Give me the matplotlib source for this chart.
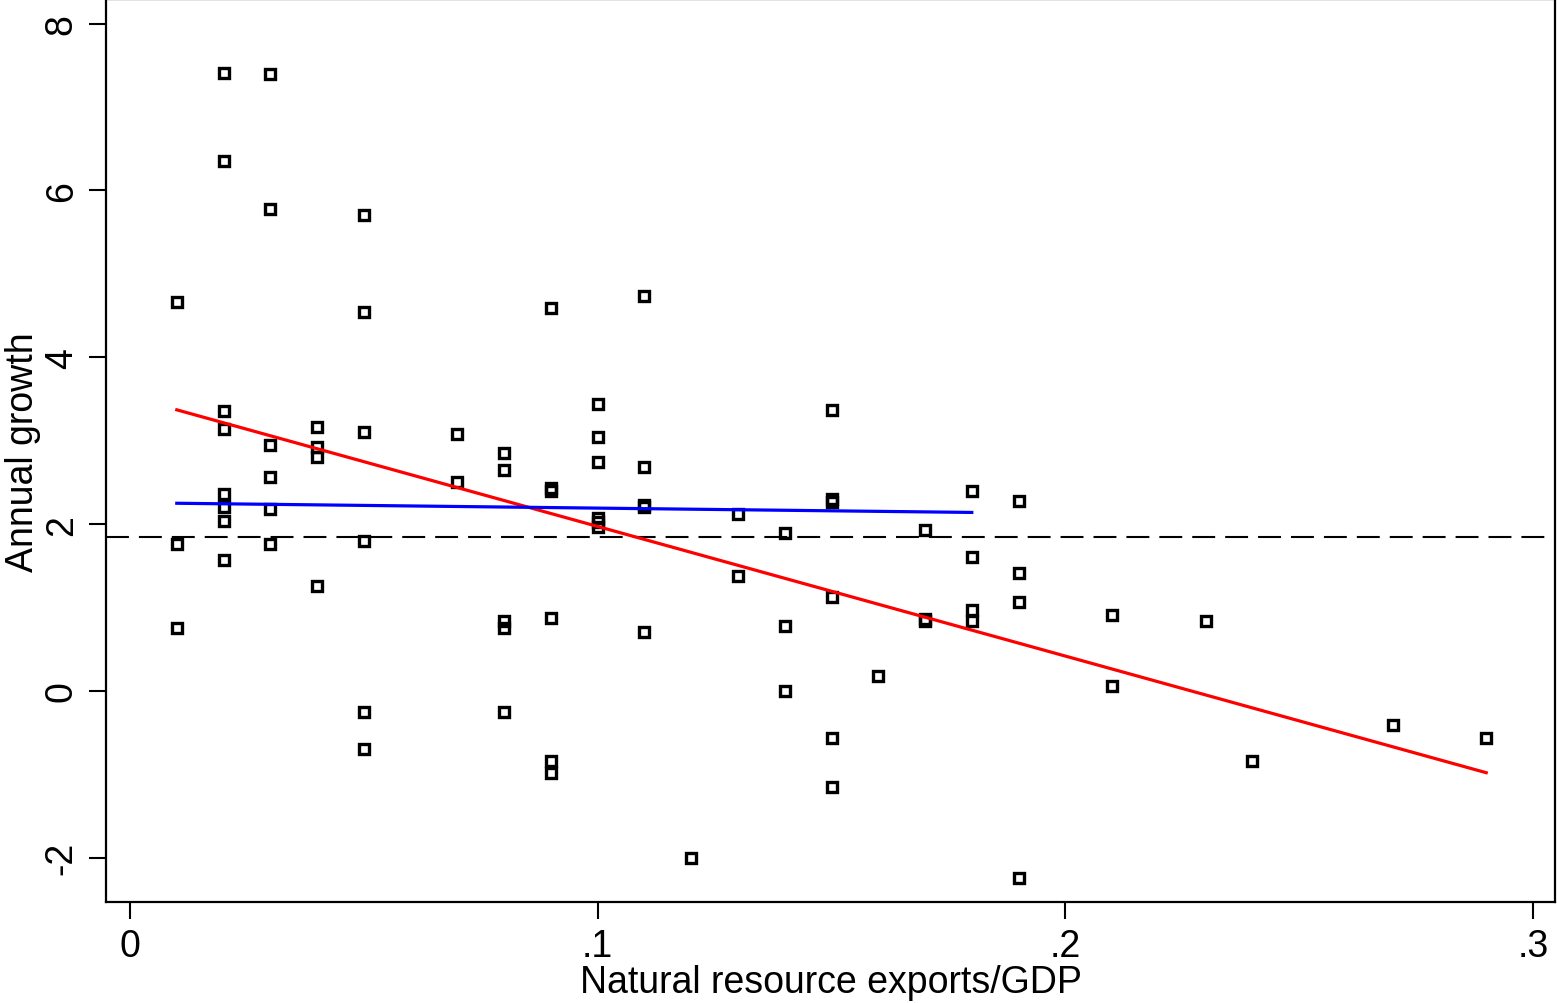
import matplotlib
matplotlib.use("Agg")
import matplotlib.pyplot as plt
import numpy as np

# Data
x_vals = [0.01, 0.01, 0.01,
          0.02, 0.02, 0.02, 0.02, 0.02, 0.02, 0.02, 0.02,
          0.03, 0.03, 0.03, 0.03, 0.03, 0.03,
          0.04, 0.04, 0.04, 0.04,
          0.05, 0.05, 0.05, 0.05, 0.05, 0.05,
          0.07, 0.07,
          0.08, 0.08, 0.08, 0.08, 0.08,
          0.09, 0.09, 0.09, 0.09, 0.09, 0.09,
          0.10, 0.10, 0.10, 0.10, 0.10, 0.10,
          0.11, 0.11, 0.11, 0.11, 0.11,
          0.12,
          0.13, 0.13,
          0.14, 0.14, 0.14,
          0.15, 0.15, 0.15, 0.15, 0.15, 0.15,
          0.16,
          0.17, 0.17, 0.17,
          0.18, 0.18, 0.18, 0.18,
          0.19, 0.19, 0.19, 0.19,
          0.21, 0.21,
          0.23, 0.24, 0.27, 0.29]
growth = [4.66, 1.76, 0.75,
          7.41, 6.35, 3.35, 3.14, 2.36, 2.20, 2.04, 1.57,
          7.39, 5.78, 2.95, 2.57, 2.18, 1.76,
          3.17, 2.93, 2.80, 1.26,
          5.71, 4.54, 3.10, 1.80, -0.25, -0.69,
          3.08, 2.51,
          2.85, 2.65, 0.84, 0.75, -0.25,
          4.59, 2.43, 2.40, 0.87, -0.84, -0.98,
          3.44, 3.05, 2.74, 2.07, 2.02, 1.96,
          4.74, 2.69, 2.23, 2.20, 0.71,
          -2.00,
          2.12, 1.38,
          1.89, 0.78, 0.00,
          3.37, 2.30, 2.26, 1.13, -0.56, -1.15,
          0.18,
          1.93, 0.86, 0.84,
          2.40, 1.60, 0.97, 0.84,
          2.28, 1.41, 1.07, -2.24,
          0.91, 0.06,
          0.84, -0.84, -0.41, -0.56]

# Fitted lines (endpoints)
red_x = [0.01, 0.29]
red_y = [3.37, -0.98]
blue_x = [0.01, 0.18]
blue_y = [2.25, 2.14]
mean_growth = 1.84

xticks = [0, 0.1, 0.2, 0.3]
xtick_labels = ["0", ".1", ".2", ".3"]
yticks = [-2, 0, 2, 4, 6, 8]
ytick_labels = ["-2", "0", "2", "4", "6", "8"]

plt.rcParams['font.family'] = ['Liberation Sans', 'DejaVu Sans']
plt.rcParams['lines.scale_dashes'] = False

fig = plt.figure(figsize=(15.57, 10.04), dpi=100)
ax = fig.add_axes([0.0681, 0.1006, 0.9306, 0.899])

ax.axhline(mean_growth, color='black', lw=1.5, dashes=(16.5, 7.2), zorder=1)
ax.plot(red_x, red_y, color='#ff0000', lw=2.3, zorder=3)
ax.plot(blue_x, blue_y, color='#0000ff', lw=2.3, zorder=3)
ax.plot(x_vals, growth, linestyle='none', marker='s', markersize=7.6,
        markerfacecolor='none', markeredgecolor='black', markeredgewidth=2.4,
        zorder=2)

ax.set_xlim(-0.00513, 0.3047)
ax.set_ylim(-2.53, 8.29)

ax.set_xticks(xticks)
ax.set_xticklabels(xtick_labels)
ax.set_yticks(yticks)
ax.set_yticklabels(ytick_labels, rotation=90, va='center')

ax.tick_params(axis='both', direction='out', length=12, width=1.5,
               labelsize=27, pad=7, color='black')
for s in ax.spines.values():
    s.set_linewidth(1.6)

ax.set_xlabel("Natural resource exports/GDP", fontsize=27, labelpad=0)
ax.set_ylabel("Annual growth", fontsize=27, labelpad=2)

fig.savefig("out.png", dpi=100)
